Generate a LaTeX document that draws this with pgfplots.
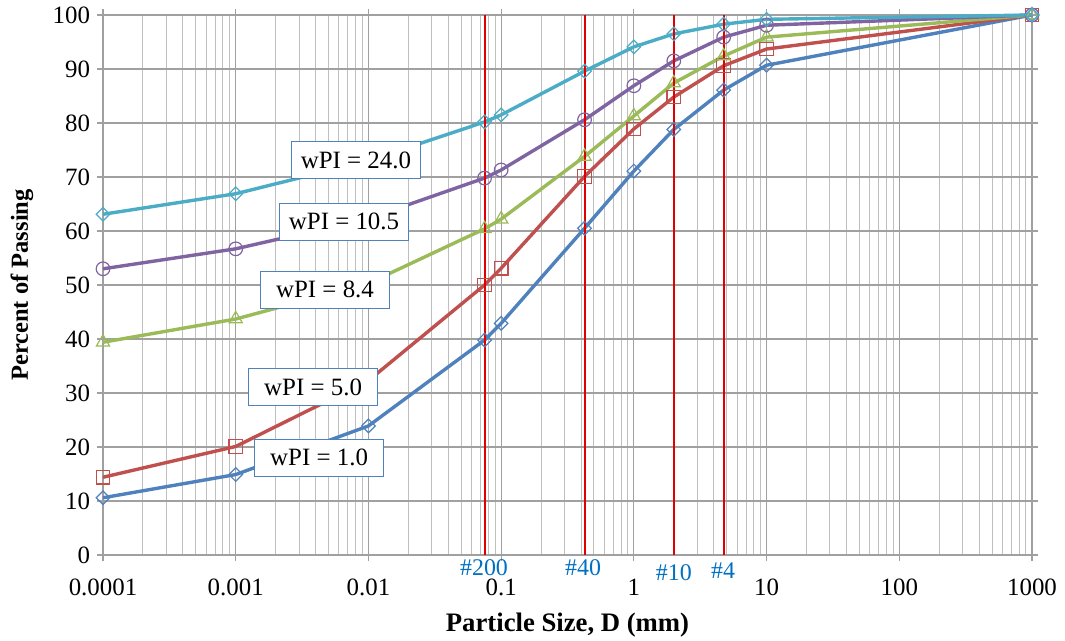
\documentclass[border=0pt]{standalone}
\usepackage{fontspec}
\setmainfont{Liberation Serif}
\usepackage{pgfplots}
\pgfplotsset{compat=1.18}
\definecolor{sblue}{HTML}{4F81BD}
\definecolor{sred}{HTML}{C0504D}
\definecolor{sgreen}{HTML}{9BBB59}
\definecolor{spurple}{HTML}{8064A2}
\definecolor{scyan}{HTML}{4BACC6}
\definecolor{vred}{HTML}{E00000}
\definecolor{sievec}{HTML}{0070C0}
\definecolor{gridc}{HTML}{A0A0A0}
\definecolor{mgridc}{HTML}{BFBFBF}
\tikzset{wbox/.style={draw=sblue, fill=white, line width=0.6bp, minimum width=64.5bp, minimum height=18.5bp, inner sep=1bp, font=\fontsize{12.5}{14}\selectfont}}
\tikzset{sieve/.style={text=sievec, font=\fontsize{12}{14}\selectfont, inner sep=0pt}}
\begin{document}
\begin{tikzpicture}
\begin{axis}[
  set layers=standard,
  scale only axis, width=464.5bp, height=270bp,
  xmode=log, log basis x=10,
  xmin=0.0001, xmax=1000, ymin=0, ymax=100,
  xtick={0.0001,0.001,0.01,0.1,1,10,100,1000},
  xticklabels={0.0001,0.001,0.01,0.1,1,10,100,1000},
  minor xtick={0.0002,0.0003,0.0004,0.0005,0.0006,0.0007,0.0008,0.0009,
    0.002,0.003,0.004,0.005,0.006,0.007,0.008,0.009,
    0.02,0.03,0.04,0.05,0.06,0.07,0.08,0.09,
    0.2,0.3,0.4,0.5,0.6,0.7,0.8,0.9,
    2,3,4,5,6,7,8,9,
    20,30,40,50,60,70,80,90,
    200,300,400,500,600,700,800,900},
  ytick={0,10,...,100},
  grid=both,
  major grid style={gridc, line width=0.6bp},
  minor grid style={mgridc, line width=0.5bp},
  axis line style={gridc, line width=0.6bp},
  tick style={gridc, line width=0.6bp},
  tick align=outside, major tick length=3bp, minor tick length=0bp,
  ticklabel style={font=\fontsize{12.5}{14}\selectfont},
  /pgf/number format/assume math mode=true,
  xticklabel style={yshift=-5.5bp},
  xlabel={\textbf{Particle Size, D (mm)}},
  xlabel style={font=\fontsize{13.4}{15}\selectfont, yshift=-1.5bp},
  ylabel={\textbf{Percent of Passing}},
  ylabel style={font=\fontsize{12.3}{14}\selectfont, at={(axis description cs:-0.0872,0.5)}, anchor=center},
  clip=false,
  every axis plot/.append style={line width=1.7bp},
]
% wPI = 1.0
\addplot[sblue, mark=diamond, mark size=3.4bp, mark options={solid, line width=0.6bp, xscale=1.33}] coordinates {
 (0.0001,10.6) (0.001,14.9) (0.01,23.9) (0.075,39.8) (0.1,42.9) (0.425,60.5) (1,71.1) (2,78.8) (4.75,86.1) (10,90.7) (1000,100)};
% wPI = 5.0
\addplot[sred, mark=square, mark size=3.4bp, mark options={solid, line width=0.6bp}] coordinates {
 (0.0001,14.4) (0.001,20.1) (0.01,32.3) (0.075,50.0) (0.1,53.1) (0.425,70.1) (1,78.9) (2,84.8) (4.75,90.6) (10,93.7) (1000,100)};
% wPI = 8.4
\addplot[sgreen, mark=triangle, mark size=3.8bp, mark options={solid, line width=0.6bp}] coordinates {
 (0.0001,39.4) (0.001,43.7) (0.01,50.3) (0.075,60.4) (0.1,62.2) (0.425,73.8) (1,81.3) (2,87.4) (4.75,92.4) (10,95.9) (1000,100)};
% wPI = 10.5
\addplot[spurple, mark=o, mark size=3.4bp, mark options={solid, line width=0.6bp}] coordinates {
 (0.0001,53.0) (0.001,56.7) (0.01,62.3) (0.075,69.8) (0.1,71.3) (0.425,80.6) (1,86.9) (2,91.5) (4.75,95.9) (10,98.1) (1000,100)};
% wPI = 24.0
\addplot[scyan, mark=diamond, mark size=3.4bp, mark options={solid, line width=0.6bp, xscale=1.33}] coordinates {
 (0.0001,63.1) (0.001,66.9) (0.01,73.0) (0.075,80.2) (0.1,81.5) (0.425,89.6) (1,94.1) (2,96.5) (4.75,98.3) (10,99.2) (1000,100)};
% sieve lines
\addplot[vred, line width=1bp] coordinates {(0.075,0) (0.075,100)};
\addplot[vred, line width=1bp] coordinates {(0.425,0) (0.425,100)};
\addplot[vred, line width=1bp] coordinates {(2,0) (2,100)};
\addplot[vred, line width=1bp] coordinates {(4.75,0) (4.75,100)};
% labels
\begin{pgfonlayer}{axis foreground}
\node[wbox] at (axis cs:0.00805,73.1) {wPI = 24.0};
\node[wbox] at (axis cs:0.00655,61.7) {wPI = 10.5};
\node[wbox] at (axis cs:0.00471,49.1) {wPI = 8.4};
\node[wbox] at (axis cs:0.00383,31.1) {wPI = 5.0};
\node[wbox] at (axis cs:0.00425,18.0) {wPI = 1.0};
\node[sieve] at (axis cs:0.0743,-2.4) {\#200};
\node[sieve] at (axis cs:0.414,-2.4) {\#40};
\node[sieve] at (axis cs:2,-3.3) {\#10};
\node[sieve] at (axis cs:4.7,-2.8) {\#4};
\end{pgfonlayer}
\coordinate (SW) at (rel axis cs:0,0);
\coordinate (NE) at (rel axis cs:1,1);
\end{axis}
\pgfresetboundingbox
\path ([shift={(-51.5bp,-42.5bp)}]SW) rectangle ([shift={(16.5bp,7.5bp)}]NE);
\end{tikzpicture}
\end{document}
